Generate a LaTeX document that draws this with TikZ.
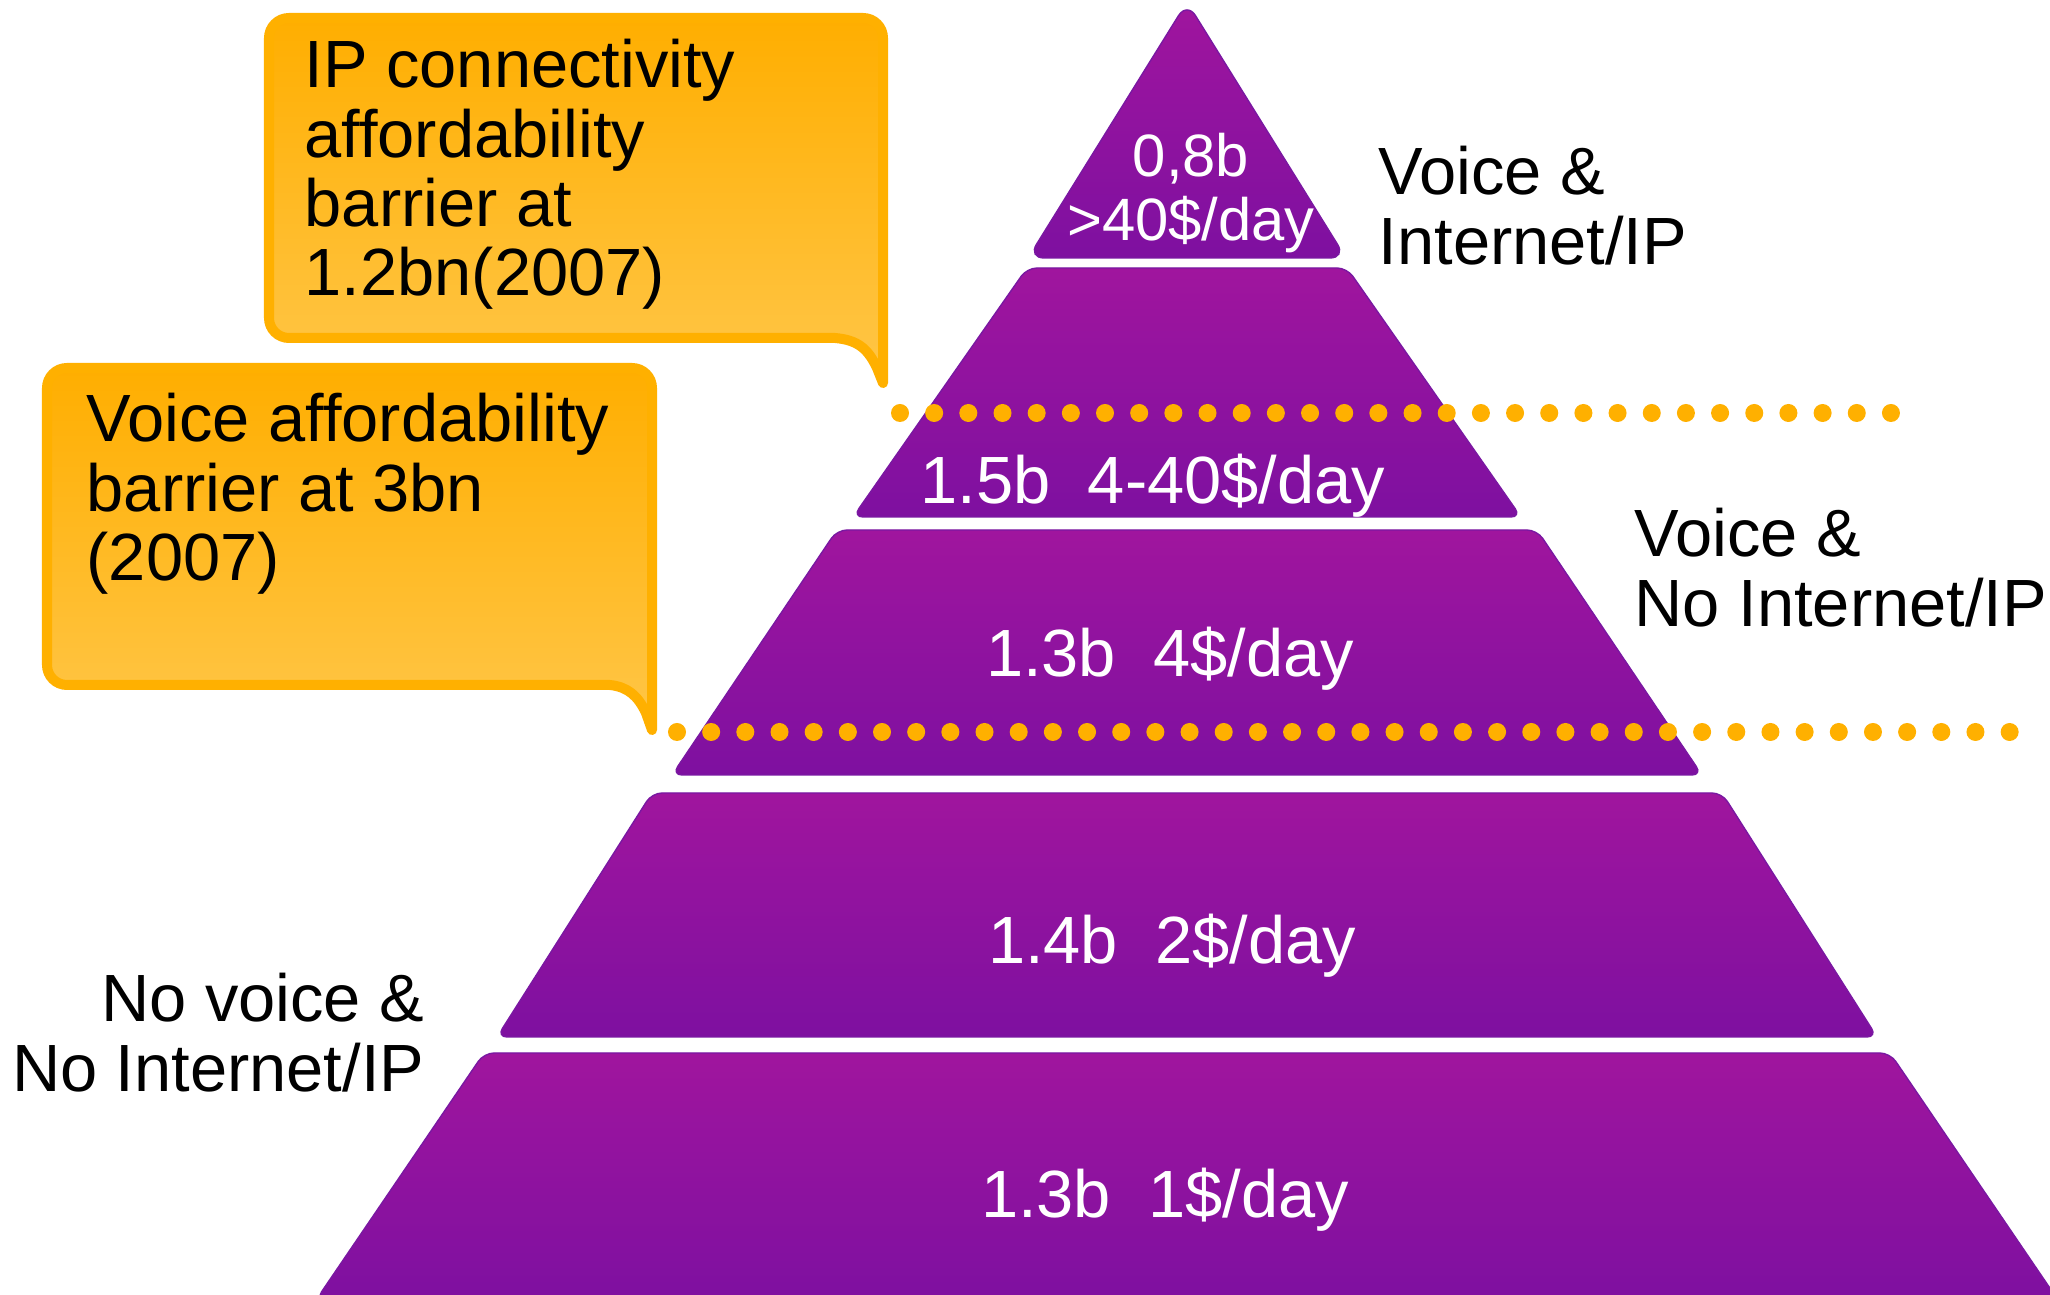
\documentclass[tikz,border=0pt]{standalone}
\usepackage{fontspec}
\setmainfont{Liberation Sans}
\definecolor{purT}{RGB}{160,21,158}
\definecolor{purB}{RGB}{126,16,160}
\definecolor{purE}{RGB}{122,24,162}
\definecolor{orgB}{RGB}{255,176,0}
\definecolor{orgT}{RGB}{255,174,0}
\definecolor{orgL}{RGB}{255,198,72}
\newcommand\lftlines[1]{\vtop{\lineskiplimit=-100pt\halign{##\hfil\cr#1\crcr}}}
\newcommand\rgtlines[1]{\vtop{\lineskiplimit=-100pt\halign{\hfil##\cr#1\crcr}}}
\newcommand\ctrlines[1]{\vtop{\lineskiplimit=-100pt\halign{\hfil##\hfil\cr#1\crcr}}}
\begin{document}
\begin{tikzpicture}[x=0.01cm,y=-0.01cm,
  layer/.style={top color=purT, bottom color=purB, draw=purE, line width=0.4pt, rounded corners=1mm},
  callout/.style={draw=orgB, line width=0.1cm, line join=round, top color=orgT, bottom color=orgL},
  barrier/.style={draw=orgB, line width=0.18cm, line cap=round, dash pattern=on 0pt off 0.3415cm},
  txt/.style={inner sep=0pt, font=\fontsize{19pt}{19.7pt}\selectfont},
  wtxt/.style={txt, text=white},
  stxt/.style={inner sep=0pt, text=white, font=\fontsize{17pt}{18.2pt}\selectfont}]
\useasboundingbox (0,0) rectangle (2050,1295);

% pyramid layers
\path[layer, rounded corners=1.6mm] (1187,2) -- (1346,258) -- (1028,258) -- cycle;
\path[layer] (1027,268) -- (1347,268) -- (1521,517) -- (853,517) -- cycle;
\path[layer] (837,530) -- (1537,530) -- (1702,775) -- (672,775) -- cycle;
\path[layer] (652,793) -- (1722,793) -- (1877,1037) -- (497,1037) -- cycle;
\path[layer] (484,1053) -- (1890,1053) -- (2058,1300) -- (316,1300) -- cycle;

% pyramid texts
\node[stxt, anchor=base] (t1) at (1191,177) {\ctrlines{0,8b\cr >40\$/day}};
\node[wtxt, anchor=base] (t2) at (1153,504) {1.5b\ \ 4-40\$/day};
\node[wtxt, anchor=base] (t3) at (1170,677) {1.3b\ \ 4\$/day};
\node[wtxt, anchor=base] (t4) at (1172,964) {1.4b\ \ 2\$/day};
\node[wtxt, anchor=base] (t5) at (1165,1218) {1.3b\ \ 1\$/day};

% barrier dotted lines
\coordinate (b1s) at (900,413);
\coordinate (b1e) at (1892,413);
\coordinate (b2s) at (677,732);
\coordinate (b2e) at (2010,732);
\draw[barrier] (b1s) -- (b1e);
\draw[barrier] (b2s) -- (b2e);

% callouts
\draw[callout] (835,338) -- (289,338) arc[start angle=90,end angle=180,radius=20]
  -- (269,38) arc[start angle=180,end angle=270,radius=20]
  -- (863,18) arc[start angle=270,end angle=360,radius=20]
  -- (883,383) -- (877,368) .. controls (868,349) and (858,340) .. (835,338) -- cycle;
\draw[callout] (610,685) -- (67,685) arc[start angle=90,end angle=180,radius=20]
  -- (47,388) arc[start angle=180,end angle=270,radius=20]
  -- (632,368) arc[start angle=270,end angle=360,radius=20]
  -- (652,730) -- (646,713) .. controls (638,696) and (628,687) .. (610,685) -- cycle;

\node[txt, anchor=base west] (c1t) at (304,88) {\lftlines{IP connectivity\cr affordability\cr barrier at\cr 1.2bn(2007)}};
\node[txt, anchor=base west] (c2t) at (86,442) {\lftlines{Voice affordability\cr barrier at 3bn\cr (2007)}};

% side labels
\node[txt, anchor=base west] (l1) at (1378,195) {\lftlines{Voice \&\cr Internet/IP}};
\node[txt, anchor=base west] (l2) at (1634,557) {\lftlines{Voice \&\cr No Internet/IP}};
\node[txt, anchor=base east] (l3) at (425,1022) {\rgtlines{No voice \&\cr No Internet/IP}};
\end{tikzpicture}
\end{document}
